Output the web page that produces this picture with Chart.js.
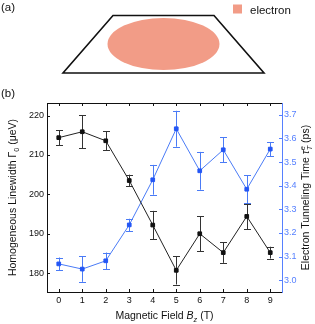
<!DOCTYPE html>
<html lang="en">
<head>
<meta charset="UTF-8">
<title>linewidth and tunneling time</title>
<script src="https://cdn.jsdelivr.net/npm/chart.js@4.4.0/dist/chart.umd.min.js"></script>
<style>
  body { margin: 0; overflow: hidden; background: #fff; font-family: "Liberation Sans", Arial, sans-serif; }
  #wrap { position: relative; width: 315px; height: 324px; }
  #chart, svg { position: absolute; left: 0; top: 0; }
  svg { pointer-events: none; }
</style>
</head>
<body>
<div id="wrap">
  <canvas id="chart" width="315" height="324"></canvas>
  <svg width="315" height="324" font-family="Liberation Sans, Arial, sans-serif">
    <text x="1" y="11" font-size="11.5" fill="#111">(a)</text>
    <ellipse cx="163.5" cy="44" rx="56" ry="26" fill="#f29c87"/>
    <polygon points="113,15.5 214,15.5 264,73 63,73" fill="none" stroke="#111" stroke-width="1.6"/>
    <rect x="233" y="4.5" width="9" height="9" fill="#f29c87"/>
    <text x="250" y="13.5" font-size="11.5" fill="#111">electron</text>
    <text x="1" y="97" font-size="11.5" fill="#111">(b)</text>
  </svg>
</div>
<script>
// data
const fieldB = [0, 1, 2, 3, 4, 5, 6, 7, 8, 9]
const linewidth = [214.4, 215.9, 213.6, 203.5, 192.2, 180.7, 190.0, 185.2, 194.4, 185.2]
const linewidthErr = [1.9, 4.2, 2.4, 1.5, 3.6, 3.6, 4.4, 2.6, 3.2, 1.5]
const tunnelTime = [3.069, 3.047, 3.082, 3.234, 3.425, 3.641, 3.463, 3.552, 3.385, 3.555]
const tunnelErr = [0.027, 0.054, 0.035, 0.026, 0.063, 0.076, 0.080, 0.052, 0.060, 0.030]
const xTicks = [0, 1, 2, 3, 4, 5, 6, 7, 8, 9]
const leftTicks = [180, 190, 200, 210, 220]
const rightTicks = [3.0, 3.1, 3.2, 3.3, 3.4, 3.5, 3.6, 3.7]

const black = '#111'
const blue = '#2456f5'
const blueLine = '#4a7bf6'
const blueAxis = '#5680ff'
const FONT = '"Liberation Sans", Arial, sans-serif'

function toPoints(ys) {
  return fieldB.map((x, i) => ({ x: x, y: ys[i] }))
}

// vertical error bars, drawn under each dataset's line and markers
const errorBars = {
  id: 'errorBars',
  beforeDatasetDraw(chart, args) {
    const ds = chart.data.datasets[args.index]
    const scale = chart.scales[args.meta.yAxisID]
    const ctx = chart.ctx
    ctx.save()
    ctx.strokeStyle = ds.errColor
    ctx.lineWidth = 1
    args.meta.data.forEach((pt, i) => {
      const v = ds.data[i].y
      const top = scale.getPixelForValue(v + ds.err[i])
      const bot = scale.getPixelForValue(v - ds.err[i])
      const x = Math.round(pt.x) + 0.5
      ctx.beginPath()
      ctx.moveTo(x, top); ctx.lineTo(x, bot)
      ctx.moveTo(x - 3.5, Math.round(top) + 0.5); ctx.lineTo(x + 3.5, Math.round(top) + 0.5)
      ctx.moveTo(x - 3.5, Math.round(bot) + 0.5); ctx.lineTo(x + 3.5, Math.round(bot) + 0.5)
      ctx.stroke()
    })
    ctx.restore()
  }
}

// top frame line and inward tick marks on all four sides
const frame = {
  id: 'frame',
  beforeDatasetsDraw(chart) {
    const { ctx, chartArea: a, scales } = chart
    const T = 3
    ctx.save()
    ctx.lineWidth = 1
    ctx.strokeStyle = black
    ctx.beginPath()
    const top = Math.round(a.top) + 0.5
    ctx.moveTo(a.left, top); ctx.lineTo(a.right, top)
    xTicks.forEach(v => {
      const px = Math.round(scales.x.getPixelForValue(v)) + 0.5
      ctx.moveTo(px, a.top); ctx.lineTo(px, a.top + T)
      ctx.moveTo(px, a.bottom); ctx.lineTo(px, a.bottom - T)
    })
    leftTicks.forEach(v => {
      const py = Math.round(scales.y.getPixelForValue(v)) + 0.5
      ctx.moveTo(a.left, py); ctx.lineTo(a.left + T, py)
    })
    ctx.stroke()
    ctx.strokeStyle = blueAxis
    ctx.beginPath()
    rightTicks.forEach(v => {
      const py = Math.round(scales.y1.getPixelForValue(v)) + 0.5
      ctx.moveTo(a.right, py); ctx.lineTo(a.right - T, py)
    })
    ctx.stroke()
    ctx.restore()
  }
}

// axis titles with italic symbols and sub/superscripts
function drawRuns(ctx, runs, cx, cy, rot, size, color) {
  ctx.save()
  ctx.translate(cx, cy)
  ctx.rotate(rot)
  ctx.fillStyle = color
  ctx.textBaseline = 'middle'
  ctx.textAlign = 'left'
  const fontOf = r => (r.it ? 'italic ' : '') + ((r.sub || r.sup) ? size * 0.7 : size) + 'px ' + FONT
  let w = 0
  runs.forEach(r => {
    ctx.font = fontOf(r)
    r.w = ctx.measureText(r.t).width
    if (!r.stack) w += r.w
  })
  let x = -w / 2
  runs.forEach(r => {
    ctx.font = fontOf(r)
    const dy = r.sub ? size * 0.32 : r.sup ? -size * 0.38 : 0
    ctx.fillText(r.t, x, dy)
    if (!r.stack) x += r.w
  })
  ctx.restore()
}

const titles = {
  id: 'titles',
  afterDraw(chart) {
    const { ctx, chartArea: a } = chart
    const midY = (a.top + a.bottom) / 2
    const midX = (a.left + a.right) / 2
    drawRuns(ctx, [
      { t: 'Homogeneous Linewidth Γ' }, { t: '0', sub: true }, { t: ' (μeV)' }
    ], 13.5, midY, -Math.PI / 2, 10.5, black)
    drawRuns(ctx, [
      { t: 'Electron Tunneling Time ' }, { t: 'τ', it: true },
      { t: 'e', it: true, sup: true, stack: true }, { t: 'T', it: true, sub: true }, { t: ' (ps)' }
    ], 306.5, midY, -Math.PI / 2, 10.5, black)
    drawRuns(ctx, [
      { t: 'Magnetic Field ' }, { t: 'B', it: true }, { t: 'z', it: true, sub: true }, { t: ' (T)' }
    ], midX, 316.5, 0, 10.5, black)
  }
}

const ctx = document.getElementById('chart').getContext('2d')
const chart = new Chart(ctx, {
  type: 'line',
  data: {
    datasets: [{
      label: 'linewidth',
      data: toPoints(linewidth),
      err: linewidthErr,
      errColor: '#333',
      yAxisID: 'y',
      borderColor: '#222',
      backgroundColor: black,
      borderWidth: 1,
      pointStyle: 'rect',
      pointRadius: 2.6,
      pointBorderWidth: 1,
      pointBorderColor: black,
      tension: 0,
      clip: false
    }, {
      label: 'tunneling time',
      data: toPoints(tunnelTime),
      err: tunnelErr,
      errColor: blueLine,
      yAxisID: 'y1',
      borderColor: blueLine,
      backgroundColor: blue,
      borderWidth: 1,
      pointStyle: 'rect',
      pointRadius: 2.6,
      pointBorderWidth: 1,
      pointBorderColor: blue,
      tension: 0,
      clip: false
    }]
  },
  options: {
    responsive: false,
    animation: false,
    devicePixelRatio: 1,
    layout: { padding: { top: 103, left: 0, right: 0, bottom: 0 } },
    plugins: { legend: { display: false }, tooltip: { enabled: false } },
    scales: {
      x: {
        type: 'linear',
        min: -0.5,
        max: 9.5,
        afterBuildTicks: s => { s.ticks = xTicks.map(v => ({ value: v })) },
        afterFit: s => { s.height = 32 },
        grid: { display: false, drawTicks: false },
        border: { color: black, width: 1 },
        ticks: { color: black, font: { size: 9, family: FONT }, padding: 3, maxRotation: 0 }
      },
      y: {
        position: 'left',
        min: 175.2,
        max: 223.2,
        afterBuildTicks: s => { s.ticks = leftTicks.map(v => ({ value: v })) },
        afterFit: s => { s.width = 47 },
        grid: { display: false, drawTicks: false },
        border: { color: black, width: 1 },
        ticks: { color: black, font: { size: 9, family: FONT }, padding: 3 }
      },
      y1: {
        position: 'right',
        min: 2.95,
        max: 3.75,
        afterBuildTicks: s => { s.ticks = rightTicks.map(v => ({ value: v })) },
        afterFit: s => { s.width = 33 },
        grid: { display: false, drawTicks: false },
        border: { color: blueAxis, width: 1 },
        ticks: { color: blueAxis, font: { size: 9, family: FONT }, padding: 2, callback: v => v.toFixed(1) }
      }
    }
  },
  plugins: [errorBars, frame, titles]
})
</script>
</body>
</html>
